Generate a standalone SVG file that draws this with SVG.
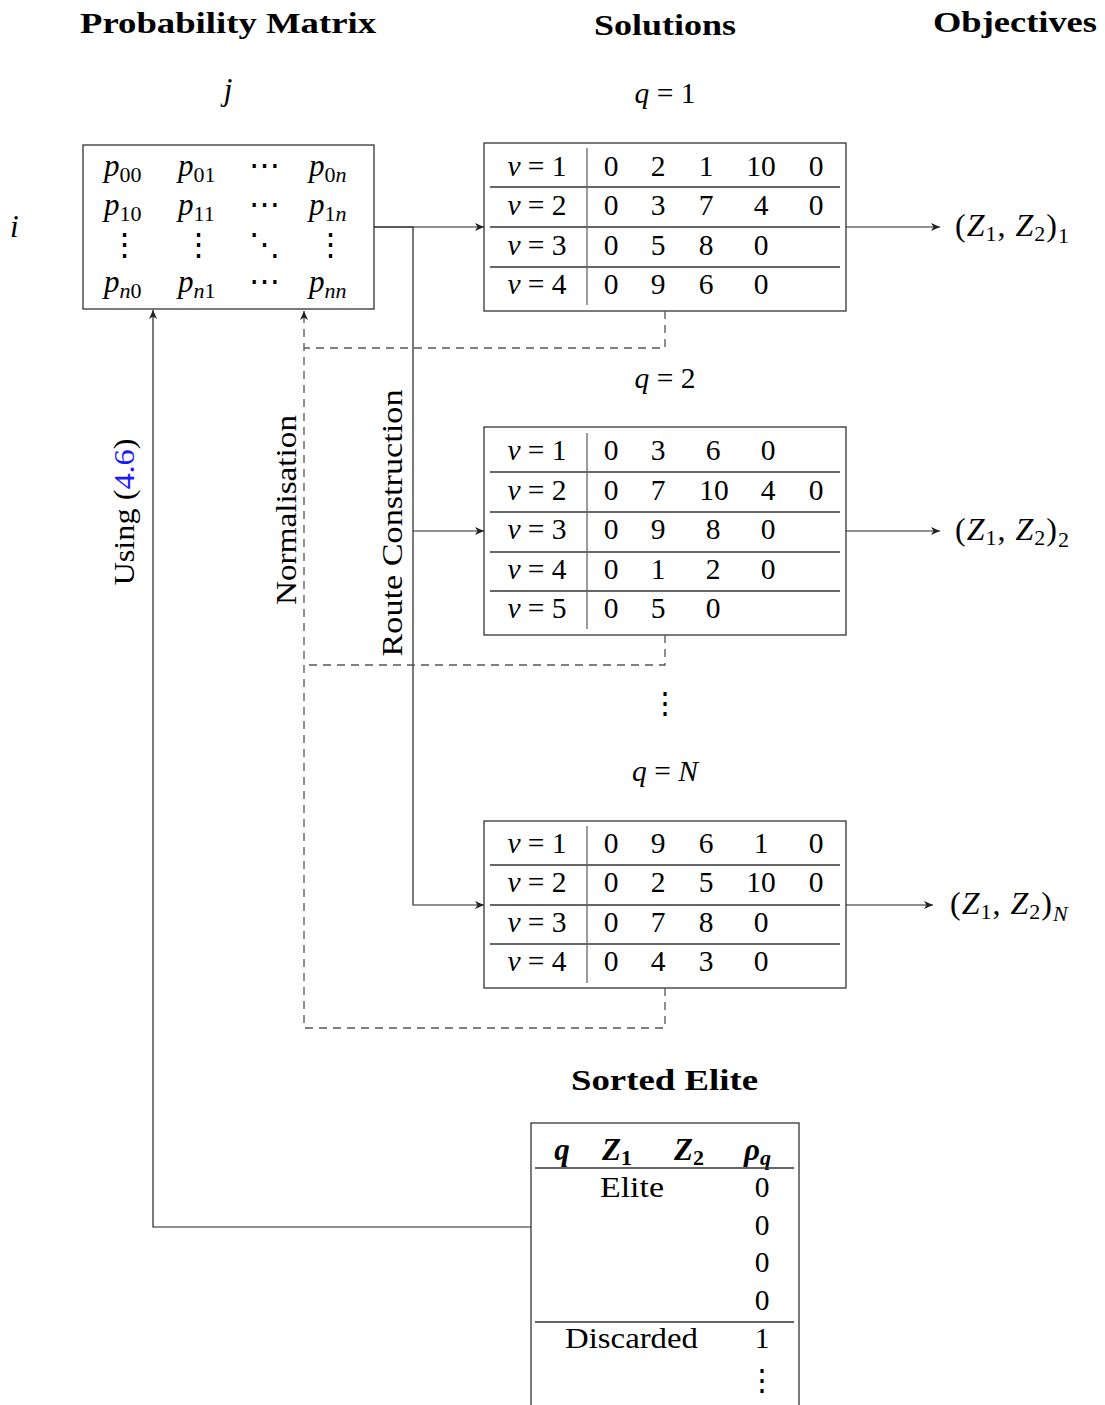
<svg xmlns="http://www.w3.org/2000/svg" width="1105" height="1405" viewBox="0 0 1105 1405">
<style>
text{font-family:"Liberation Serif","DejaVu Serif",serif;font-size:29.5px;fill:#000}
.title{font-weight:bold;font-size:30px}
.it{font-style:italic}
.sub{font-size:20px}
.c{text-anchor:middle}
.m{font-size:31px}
.m .sub{font-size:22px}
.obj{font-size:32px;letter-spacing:1px}
.obj .sub{font-size:22px}
.box{fill:#fff;stroke:#333;stroke-width:1.3}
.sep{stroke:#333;stroke-width:1.3}
.vsep{stroke:#666;stroke-width:1.3}
.conn{fill:none;stroke:#222;stroke-width:1.2}
.dash{fill:none;stroke:#555;stroke-width:1.3;stroke-dasharray:8 6}
</style>
<defs>
<marker id="ah" markerUnits="userSpaceOnUse" markerWidth="10" markerHeight="8" refX="9" refY="4" orient="auto">
<path d="M0,0 L9,4 L0,8 L2.5,4 z" fill="#222"/>
</marker>
</defs>

<g id="titles">
<text class="title" x="80" y="33" textLength="296" lengthAdjust="spacingAndGlyphs">Probability Matrix</text>
<text class="title" x="594" y="35" textLength="142" lengthAdjust="spacingAndGlyphs">Solutions</text>
<text class="title" x="933" y="32" textLength="164" lengthAdjust="spacingAndGlyphs">Objectives</text>
<text class="title" x="571" y="1090" textLength="187" lengthAdjust="spacingAndGlyphs">Sorted Elite</text>
</g>

<g id="axis-labels">
<text class="it c m" x="228" y="100">j</text>
<text class="it m" x="10" y="237">i</text>
</g>

<g id="matrix" class="m">
<rect class="box" x="83" y="145" width="291" height="164"/>
<text class="m" x="104" y="176"><tspan class="it">p</tspan><tspan class="sub" dy="6">00</tspan></text>
<text class="m" x="178" y="176"><tspan class="it">p</tspan><tspan class="sub" dy="6">01</tspan></text>
<text class="c m" x="264" y="176">⋯</text>
<text class="m" x="309" y="176"><tspan class="it">p</tspan><tspan class="sub" dy="6">0</tspan><tspan class="sub it">n</tspan></text>
<text class="m" x="104" y="215"><tspan class="it">p</tspan><tspan class="sub" dy="6">10</tspan></text>
<text class="m" x="178" y="215"><tspan class="it">p</tspan><tspan class="sub" dy="6">11</tspan></text>
<text class="c m" x="264" y="215">⋯</text>
<text class="m" x="309" y="215"><tspan class="it">p</tspan><tspan class="sub" dy="6">1</tspan><tspan class="sub it">n</tspan></text>
<text class="c m" x="124" y="255">⋮</text>
<text class="c m" x="198" y="255">⋮</text>
<text class="c m" x="264" y="255">⋱</text>
<text class="c m" x="330" y="255">⋮</text>
<text class="m" x="104" y="292"><tspan class="it">p</tspan><tspan class="sub it" dy="6">n</tspan><tspan class="sub">0</tspan></text>
<text class="m" x="178" y="292"><tspan class="it">p</tspan><tspan class="sub it" dy="6">n</tspan><tspan class="sub">1</tspan></text>
<text class="c m" x="264" y="292">⋯</text>
<text class="m" x="309" y="292"><tspan class="it">p</tspan><tspan class="sub it" dy="6">nn</tspan></text>
</g>

<g id="sol1">
<text class="c" x="665" y="103"><tspan class="it">q</tspan> = 1</text>
<rect class="box" x="484" y="143" width="362" height="168"/>
<line class="sep" x1="490" y1="187" x2="840" y2="187"/>
<line class="sep" x1="490" y1="227" x2="840" y2="227"/>
<line class="sep" x1="490" y1="267" x2="840" y2="267"/>
<line class="vsep" x1="587" y1="148" x2="587" y2="305"/>
<text class="c" x="537" y="176"><tspan class="it">ν</tspan> = 1</text>
<text class="c" x="537" y="215"><tspan class="it">ν</tspan> = 2</text>
<text class="c" x="537" y="255"><tspan class="it">ν</tspan> = 3</text>
<text class="c" x="537" y="294"><tspan class="it">ν</tspan> = 4</text>
<text class="c" x="611" y="176">0</text><text class="c" x="658" y="176">2</text><text class="c" x="706" y="176">1</text><text class="c" x="761" y="176">10</text><text class="c" x="816" y="176">0</text>
<text class="c" x="611" y="215">0</text><text class="c" x="658" y="215">3</text><text class="c" x="706" y="215">7</text><text class="c" x="761" y="215">4</text><text class="c" x="816" y="215">0</text>
<text class="c" x="611" y="255">0</text><text class="c" x="658" y="255">5</text><text class="c" x="706" y="255">8</text><text class="c" x="761" y="255">0</text>
<text class="c" x="611" y="294">0</text><text class="c" x="658" y="294">9</text><text class="c" x="706" y="294">6</text><text class="c" x="761" y="294">0</text>
</g>

<g id="sol2">
<text class="c" x="665" y="388"><tspan class="it">q</tspan> = 2</text>
<rect class="box" x="484" y="427" width="362" height="208"/>
<line class="sep" x1="490" y1="472" x2="840" y2="472"/>
<line class="sep" x1="490" y1="512" x2="840" y2="512"/>
<line class="sep" x1="490" y1="552" x2="840" y2="552"/>
<line class="sep" x1="490" y1="591" x2="840" y2="591"/>
<line class="vsep" x1="587" y1="433" x2="587" y2="629"/>
<text class="c" x="537" y="460"><tspan class="it">ν</tspan> = 1</text>
<text class="c" x="537" y="500"><tspan class="it">ν</tspan> = 2</text>
<text class="c" x="537" y="539"><tspan class="it">ν</tspan> = 3</text>
<text class="c" x="537" y="579"><tspan class="it">ν</tspan> = 4</text>
<text class="c" x="537" y="618"><tspan class="it">ν</tspan> = 5</text>
<text class="c" x="611" y="460">0</text><text class="c" x="658" y="460">3</text><text class="c" x="713" y="460">6</text><text class="c" x="768" y="460">0</text>
<text class="c" x="611" y="500">0</text><text class="c" x="658" y="500">7</text><text class="c" x="714" y="500">10</text><text class="c" x="768" y="500">4</text><text class="c" x="816" y="500">0</text>
<text class="c" x="611" y="539">0</text><text class="c" x="658" y="539">9</text><text class="c" x="713" y="539">8</text><text class="c" x="768" y="539">0</text>
<text class="c" x="611" y="579">0</text><text class="c" x="658" y="579">1</text><text class="c" x="713" y="579">2</text><text class="c" x="768" y="579">0</text>
<text class="c" x="611" y="618">0</text><text class="c" x="658" y="618">5</text><text class="c" x="713" y="618">0</text>
</g>

<g id="ellipsis">
<text class="c" x="665" y="713">⋮</text>
</g>

<g id="solN">
<text class="c" x="665" y="781"><tspan class="it">q</tspan> = <tspan class="it">N</tspan></text>
<rect class="box" x="484" y="821" width="362" height="167"/>
<line class="sep" x1="490" y1="865" x2="840" y2="865"/>
<line class="sep" x1="490" y1="905" x2="840" y2="905"/>
<line class="sep" x1="490" y1="944" x2="840" y2="944"/>
<line class="vsep" x1="587" y1="826" x2="587" y2="983"/>
<text class="c" x="537" y="853"><tspan class="it">ν</tspan> = 1</text>
<text class="c" x="537" y="892"><tspan class="it">ν</tspan> = 2</text>
<text class="c" x="537" y="932"><tspan class="it">ν</tspan> = 3</text>
<text class="c" x="537" y="971"><tspan class="it">ν</tspan> = 4</text>
<text class="c" x="611" y="853">0</text><text class="c" x="658" y="853">9</text><text class="c" x="706" y="853">6</text><text class="c" x="761" y="853">1</text><text class="c" x="816" y="853">0</text>
<text class="c" x="611" y="892">0</text><text class="c" x="658" y="892">2</text><text class="c" x="706" y="892">5</text><text class="c" x="761" y="892">10</text><text class="c" x="816" y="892">0</text>
<text class="c" x="611" y="932">0</text><text class="c" x="658" y="932">7</text><text class="c" x="706" y="932">8</text><text class="c" x="761" y="932">0</text>
<text class="c" x="611" y="971">0</text><text class="c" x="658" y="971">4</text><text class="c" x="706" y="971">3</text><text class="c" x="761" y="971">0</text>
</g>

<g id="obj1">
<text class="obj" x="955" y="236">(<tspan class="it">Z</tspan><tspan class="sub" dy="5">1</tspan><tspan dy="-5">, </tspan><tspan class="it">Z</tspan><tspan class="sub" dy="5">2</tspan><tspan dy="-5">)</tspan><tspan class="sub" dy="7">1</tspan></text>
</g>
<g id="obj2">
<text class="obj" x="955" y="540">(<tspan class="it">Z</tspan><tspan class="sub" dy="5">1</tspan><tspan dy="-5">, </tspan><tspan class="it">Z</tspan><tspan class="sub" dy="5">2</tspan><tspan dy="-5">)</tspan><tspan class="sub" dy="7">2</tspan></text>
</g>
<g id="objN">
<text class="obj" x="950" y="914">(<tspan class="it">Z</tspan><tspan class="sub" dy="5">1</tspan><tspan dy="-5">, </tspan><tspan class="it">Z</tspan><tspan class="sub" dy="5">2</tspan><tspan dy="-5">)</tspan><tspan class="sub it" dy="7">N</tspan></text>
</g>

<g id="elite">
<rect class="box" x="531" y="1123" width="268" height="300"/>
<text class="c m" x="562" y="1160" font-weight="bold" font-style="italic">q</text>
<text class="m" x="602" y="1160" font-weight="bold"><tspan font-style="italic">Z</tspan><tspan class="sub" dy="5">1</tspan></text>
<text class="m" x="674" y="1160" font-weight="bold"><tspan font-style="italic">Z</tspan><tspan class="sub" dy="5">2</tspan></text>
<text class="m" x="744" y="1160" font-weight="bold"><tspan font-style="italic">ρ</tspan><tspan class="sub" font-style="italic" dy="5">q</tspan></text>
<line class="sep" x1="535" y1="1168" x2="794" y2="1168"/>
<text x="600" y="1197" textLength="64" lengthAdjust="spacingAndGlyphs">Elite</text>
<text class="c" x="762" y="1197">0</text>
<text class="c" x="762" y="1235">0</text>
<text class="c" x="762" y="1272">0</text>
<text class="c" x="762" y="1310">0</text>
<line class="sep" x1="535" y1="1322" x2="794" y2="1322"/>
<text x="565" y="1348" textLength="133" lengthAdjust="spacingAndGlyphs">Discarded</text>
<text class="c" x="762" y="1348">1</text>
<text class="c" x="762" y="1390">⋮</text>
</g>

<g id="connectors">
<path class="conn" d="M374,227 H484" marker-end="url(#ah)"/>
<path class="conn" d="M374,227 H413 V905 H484" marker-end="url(#ah)"/>
<path class="conn" d="M413,531 H484" marker-end="url(#ah)"/>
<path class="conn" d="M846,227 H940" marker-end="url(#ah)"/>
<path class="conn" d="M846,531 H940" marker-end="url(#ah)"/>
<path class="conn" d="M846,905 H933" marker-end="url(#ah)"/>
<path class="conn" d="M531,1227 H153 V310" marker-end="url(#ah)"/>
<path class="dash" d="M665,311 V348 H304"/>
<path class="dash" d="M665,635 V665 H304"/>
<path class="dash" d="M665,988 V1028 H304 V311"/>
<path class="conn" d="M304,318 V311" marker-end="url(#ah)"/>
</g>

<g id="edge-labels">
<text transform="translate(134,512) rotate(-90)" class="c" textLength="147" lengthAdjust="spacingAndGlyphs">Using (<tspan fill="#1a1aff">4.6</tspan>)</text>
<text transform="translate(296,510) rotate(-90)" class="c" textLength="190" lengthAdjust="spacingAndGlyphs">Normalisation</text>
<text transform="translate(402,523) rotate(-90)" class="c" textLength="267" lengthAdjust="spacingAndGlyphs">Route Construction</text>
</g>
</svg>
